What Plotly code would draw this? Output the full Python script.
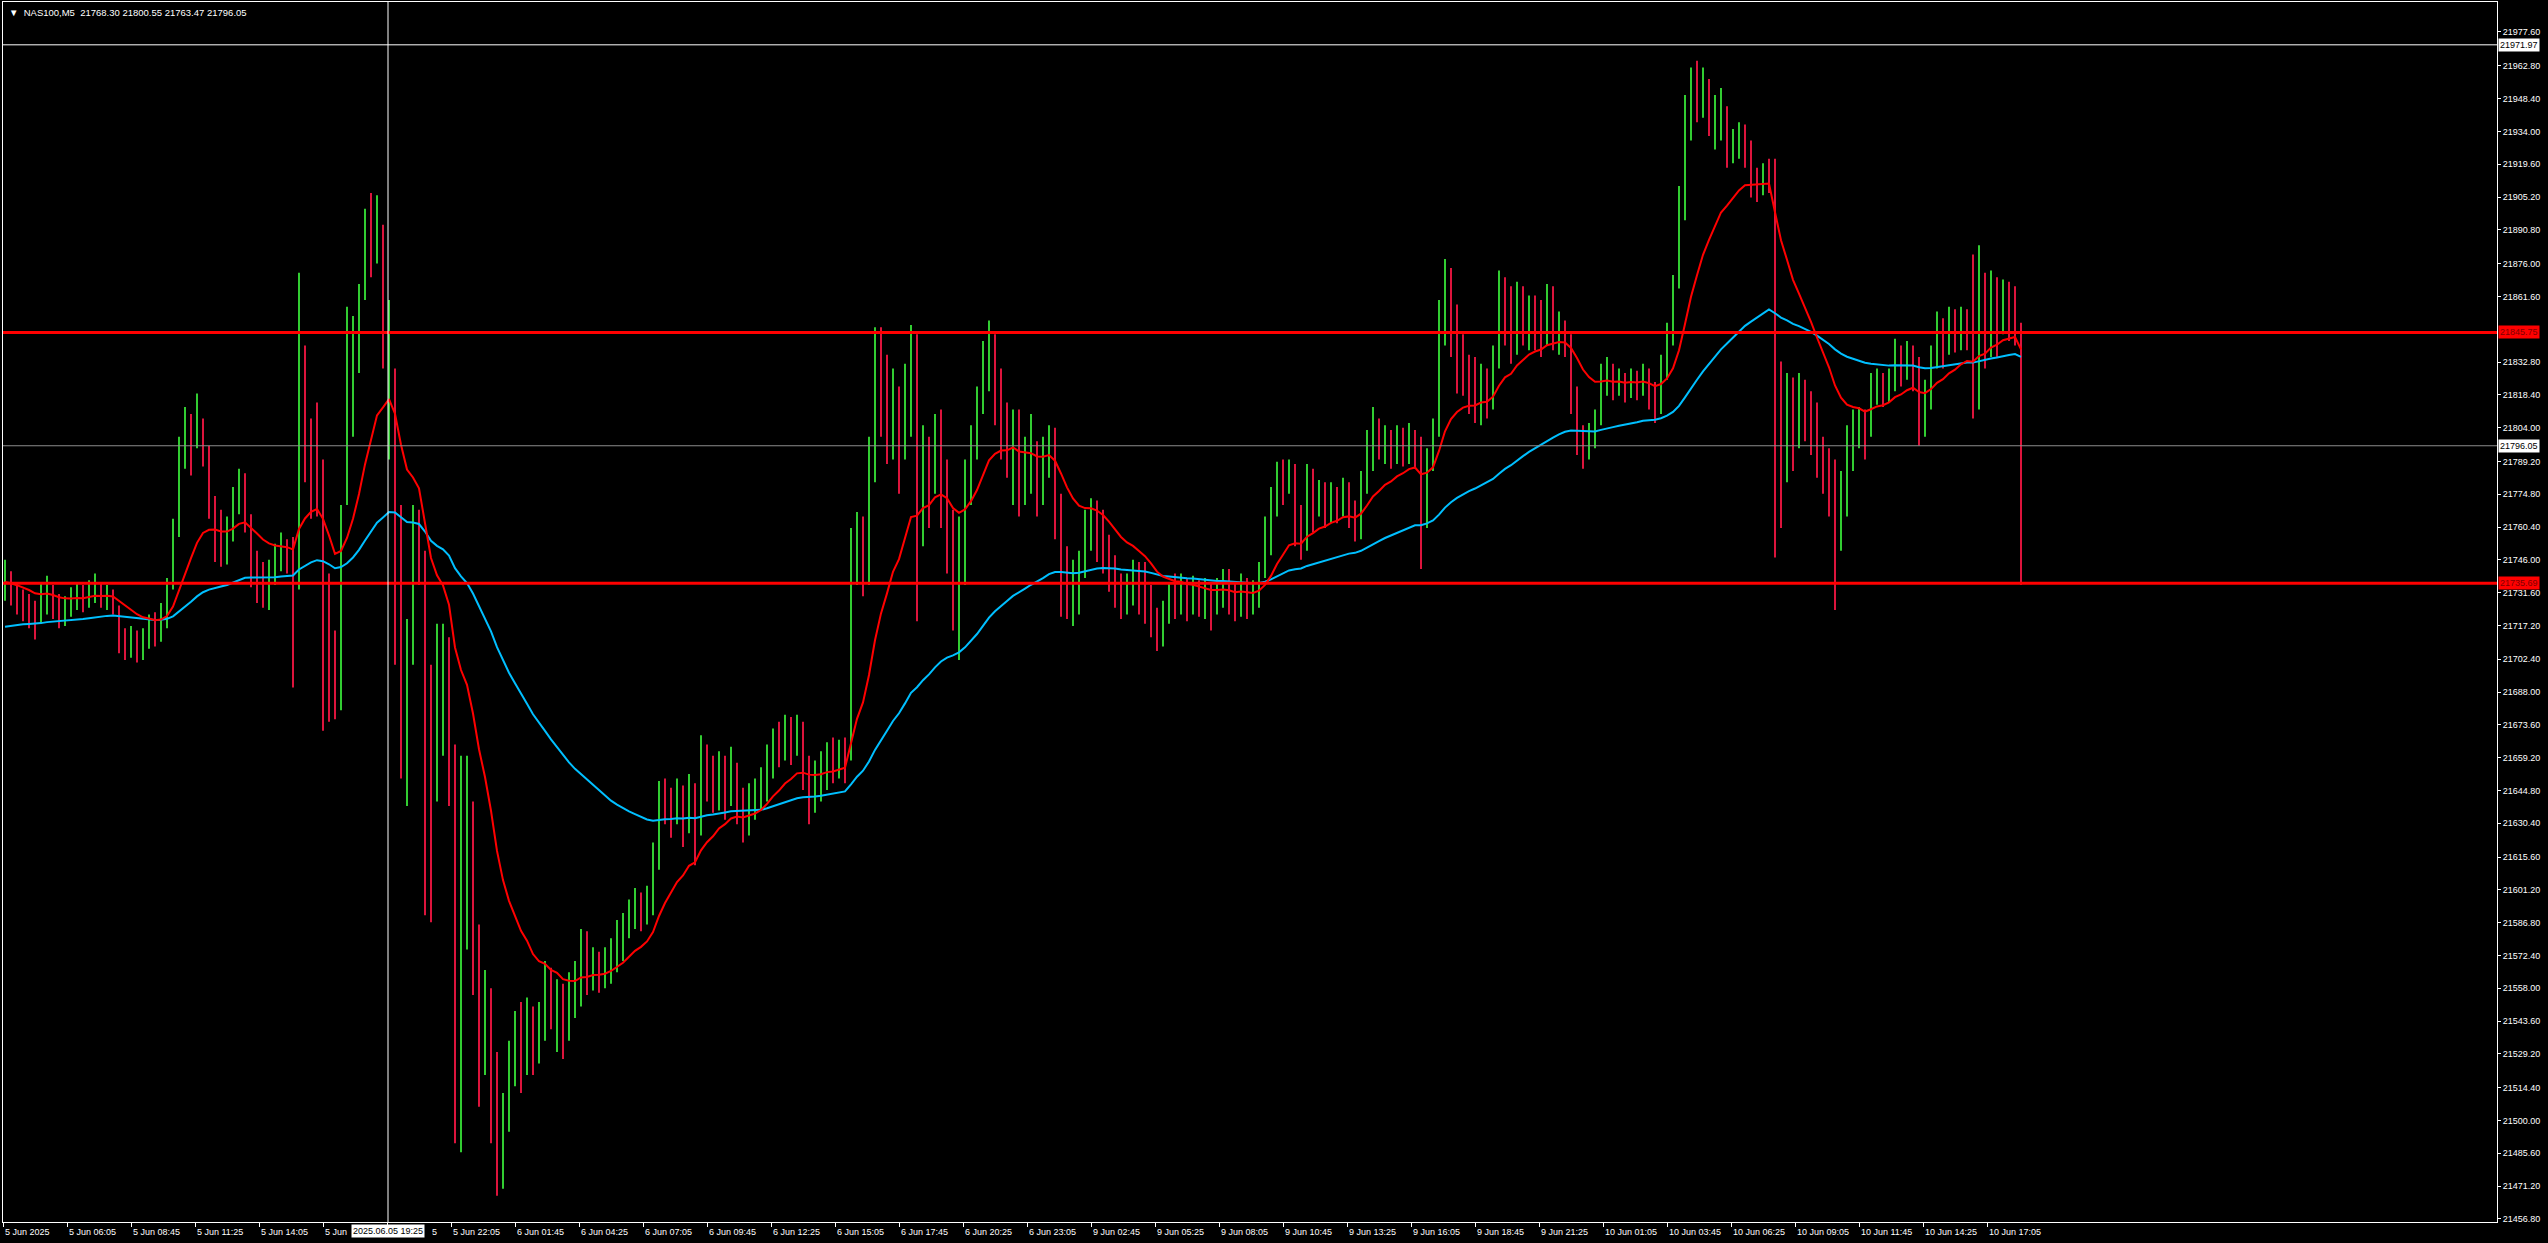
import plotly.graph_objects as go

# ---------------- data (15-minute aggregates) ----------------
first_open = 21735.0
bar_close = [
    21738, 21732, 21728, 21726, 21724, 21720, 21728, 21733, 21726, 21722,
    21725, 21729, 21731, 21728, 21733, 21735, 21730, 21731, 21727, 21712,
    21709, 21711, 21707, 21710, 21716, 21714, 21722, 21733, 21758, 21790,
    21800, 21797, 21806, 21792, 21770, 21760, 21752, 21758, 21770, 21778,
    21768, 21742, 21737, 21734, 21740, 21745, 21750, 21748, 21743, 21830,
    21800, 21790, 21778, 21730, 21700, 21685, 21760, 21800, 21830, 21860,
    21890, 21885, 21892, 21840, 21845, 21760, 21690, 21700, 21755, 21740,
    21650, 21620, 21680, 21700, 21660, 21560, 21620, 21640, 21580, 21540,
    21555, 21520, 21480, 21505, 21525, 21540, 21530, 21545, 21527, 21545,
    21560, 21545, 21555, 21540, 21556, 21560, 21575, 21565, 21570, 21565,
    21568, 21575, 21580, 21585, 21592, 21595, 21590, 21597, 21615, 21645,
    21640, 21635, 21642, 21630, 21645, 21625, 21660, 21650, 21645, 21655,
    21645, 21652, 21640, 21630, 21640, 21642, 21648, 21660, 21668, 21665,
    21672, 21665, 21672, 21655, 21645, 21650, 21655, 21660, 21655, 21662,
    21660, 21750, 21760, 21740, 21790, 21830, 21815, 21800, 21815, 21790,
    21825, 21840, 21770, 21795, 21780, 21800, 21785, 21760, 21735, 21750,
    21780, 21800, 21815, 21835, 21840, 21815, 21805, 21795, 21805, 21780,
    21790, 21790, 21780, 21790, 21798, 21770, 21740, 21730, 21735, 21745,
    21760, 21768, 21760, 21750, 21740, 21735, 21728, 21735, 21740, 21732,
    21730, 21720, 21712, 21722, 21730, 21728, 21735, 21727, 21733, 21728,
    21730, 21725, 21732, 21735, 21730, 21725, 21735, 21728, 21730, 21740,
    21755, 21770, 21785, 21780, 21785, 21760, 21752, 21780, 21770, 21775,
    21768, 21775, 21770, 21777, 21768, 21760, 21780, 21798, 21805, 21795,
    21800, 21792, 21800, 21795, 21800, 21792, 21760, 21790, 21805, 21850,
    21870, 21850, 21835, 21828, 21820, 21815, 21825, 21818, 21835, 21860,
    21855, 21840, 21860, 21852, 21855, 21848, 21845, 21855, 21845, 21848,
    21840, 21820, 21800, 21790, 21800, 21808, 21825, 21828, 21820, 21825,
    21820, 21826, 21822, 21828, 21818, 21812, 21830, 21845, 21865, 21900,
    21940, 21955, 21945, 21950, 21938, 21940, 21945, 21925, 21930, 21935,
    21928, 21912, 21910, 21915, 21912, 21800, 21790, 21810, 21800, 21815,
    21810, 21800, 21790, 21785, 21780, 21760, 21775, 21790, 21805, 21808,
    21800, 21820, 21823, 21818, 21825, 21835, 21828, 21835, 21830, 21805,
    21815, 21835, 21845, 21838, 21848, 21842, 21850, 21845, 21830, 21855,
    21845, 21860, 21850, 21858, 21850, 21848, 21796,
]
bar_high = [
    21746, 21741, 21736, 21733, 21731, 21728, 21736, 21739, 21735, 21731,
    21730, 21734, 21736, 21735, 21737, 21740, 21736, 21735, 21733, 21726,
    21716, 21717, 21715, 21716, 21722, 21723, 21727, 21738, 21764, 21800,
    21813, 21810, 21819, 21808, 21796, 21774, 21768, 21765, 21778, 21786,
    21784, 21766, 21750, 21745, 21746, 21753, 21758, 21755, 21756, 21872,
    21840, 21808, 21815, 21790, 21740, 21715, 21770, 21857, 21853, 21867,
    21900, 21907, 21906, 21893, 21860, 21830, 21770, 21720, 21770, 21768,
    21750, 21700, 21718, 21718, 21712, 21665, 21660, 21660, 21640, 21586,
    21566, 21558, 21530, 21512, 21535, 21548, 21552, 21554, 21550, 21552,
    21570, 21567, 21562, 21560, 21565, 21570, 21584, 21583, 21576, 21574,
    21576, 21580, 21588, 21591, 21597, 21602, 21600, 21603, 21622, 21649,
    21650, 21646, 21650, 21647, 21652, 21648, 21669, 21665, 21660, 21662,
    21660, 21664, 21657, 21646, 21648, 21650, 21655, 21665, 21672, 21675,
    21678, 21677, 21678, 21675, 21660, 21658, 21662, 21666, 21668, 21667,
    21668, 21760, 21767, 21765, 21800, 21848, 21848, 21836, 21830, 21822,
    21832, 21849, 21845, 21805, 21800, 21810, 21812, 21790, 21768, 21765,
    21790, 21805, 21822, 21842, 21851, 21845, 21830, 21815, 21812, 21812,
    21800, 21810, 21798, 21800, 21805, 21804, 21775, 21752, 21746, 21750,
    21768, 21773, 21772, 21768, 21757, 21748, 21740, 21740, 21746, 21745,
    21745, 21735, 21725, 21728, 21736, 21740, 21740, 21738, 21739, 21737,
    21738, 21736, 21738, 21742, 21742, 21736, 21740, 21738, 21737, 21745,
    21765, 21778, 21789, 21790, 21790, 21788, 21770, 21788, 21786, 21781,
    21780, 21780, 21778, 21782, 21780, 21772, 21785, 21803, 21813, 21808,
    21805, 21803, 21805, 21804, 21806, 21803, 21800, 21795, 21808, 21860,
    21878, 21874, 21858, 21845, 21836, 21835, 21832, 21830, 21840, 21873,
    21870, 21866, 21868, 21866, 21862, 21862, 21860, 21867, 21866, 21855,
    21851, 21845, 21822, 21805, 21806, 21812, 21832, 21835, 21832, 21830,
    21828, 21830, 21829, 21832, 21830, 21824, 21836, 21850, 21871, 21910,
    21950, 21962, 21965, 21962, 21957, 21950, 21953, 21945, 21935, 21938,
    21937, 21930, 21918, 21920, 21922, 21922, 21833, 21828, 21826, 21828,
    21825, 21820, 21815, 21800, 21795, 21790, 21785, 21805, 21812, 21813,
    21812, 21828, 21830, 21828, 21830, 21843, 21840, 21842, 21840, 21835,
    21825, 21840, 21855, 21852, 21857, 21856, 21857, 21856, 21880, 21884,
    21872, 21873, 21870, 21869, 21868, 21866, 21850,
]
bar_low = [
    21728, 21726, 21722, 21719, 21716, 21711, 21718, 21722, 21720, 21716,
    21717, 21721, 21724, 21723, 21725, 21727, 21725, 21724, 21722, 21705,
    21702, 21703, 21701, 21702, 21707, 21708, 21710, 21716, 21733, 21756,
    21786, 21783, 21795, 21787, 21764, 21745, 21743, 21744, 21754, 21766,
    21758, 21734, 21727, 21725, 21724, 21735, 21741, 21740, 21690, 21733,
    21780, 21764, 21765, 21671, 21675, 21676, 21680, 21770, 21800, 21828,
    21860, 21870, 21876, 21830, 21790, 21700, 21650, 21638, 21700, 21735,
    21590, 21587, 21640, 21660, 21638, 21490, 21486, 21575, 21555, 21506,
    21520, 21490, 21467, 21470, 21495, 21515, 21512, 21520, 21520, 21525,
    21535, 21540, 21530, 21527, 21535, 21545, 21550, 21555, 21557, 21556,
    21558, 21560, 21565, 21570, 21580, 21584, 21583, 21586, 21590, 21610,
    21630, 21624, 21630, 21620, 21626, 21612, 21625, 21640, 21635, 21636,
    21632, 21638, 21630, 21622, 21625, 21632, 21636, 21640, 21650, 21655,
    21658, 21656, 21660, 21645, 21630, 21635, 21640, 21645, 21648, 21650,
    21648, 21658, 21735, 21730, 21735, 21780, 21800, 21788, 21790, 21775,
    21790, 21800, 21719, 21752, 21760, 21775, 21760, 21740, 21715, 21702,
    21735, 21770, 21790, 21810, 21820, 21805, 21790, 21782, 21770, 21765,
    21770, 21775, 21765, 21770, 21782, 21755, 21721, 21720, 21717, 21722,
    21738, 21750, 21745, 21740, 21732, 21725, 21720, 21722, 21726, 21722,
    21718, 21712, 21706, 21708, 21718, 21720, 21722, 21719, 21722, 21721,
    21720, 21715, 21722, 21725, 21722, 21719, 21721, 21720, 21722, 21725,
    21738, 21748, 21765, 21770, 21775, 21752, 21746, 21750, 21758, 21765,
    21760, 21762, 21762, 21765, 21760, 21754, 21755, 21775, 21785, 21790,
    21788, 21786, 21788, 21787, 21788, 21786, 21742, 21760, 21785, 21800,
    21840, 21835, 21819, 21818, 21810, 21806, 21805, 21808, 21812, 21830,
    21840, 21832, 21836, 21840, 21838, 21838, 21835, 21840, 21838, 21836,
    21835, 21810, 21792, 21786, 21790, 21795, 21805, 21818, 21816, 21818,
    21815, 21817, 21816, 21818, 21812, 21806, 21810, 21825, 21840, 21865,
    21895, 21930, 21938, 21940, 21932, 21926, 21930, 21918, 21920, 21922,
    21918, 21905, 21903, 21906, 21907, 21747, 21760, 21780, 21785, 21795,
    21798, 21792, 21782, 21775, 21765, 21724, 21750, 21765, 21785, 21795,
    21790, 21800, 21814, 21813, 21815, 21820, 21822, 21825, 21820, 21796,
    21800, 21812, 21830, 21830, 21836, 21837, 21838, 21838, 21808, 21812,
    21830, 21835, 21835, 21845, 21842, 21840, 21735,
]
bars_per_point = 3          # each value above covers three M5 bars
red_ma_period = 50          # EMA periods on M5
blue_ma_period = 200
red_ma_start = 21736.0      # indicator values at the left edge
blue_ma_start = 21716.0

# labels as they are visible (two are partly covered by the crosshair time box)
x_tick_labels = [
    "5 Jun 2025", "5 Jun 06:05", "5 Jun 08:45", "5 Jun 11:25", "5 Jun 14:05", "5 Jun",
    "", "5 Jun 22:05", "6 Jun 01:45", "6 Jun 04:25", "6 Jun 07:05", "6 Jun 09:45",
    "6 Jun 12:25", "6 Jun 15:05", "6 Jun 17:45", "6 Jun 20:25", "6 Jun 23:05", "9 Jun 02:45",
    "9 Jun 05:25", "9 Jun 08:05", "9 Jun 10:45", "9 Jun 13:25", "9 Jun 16:05", "9 Jun 18:45",
    "9 Jun 21:25", "10 Jun 01:05", "10 Jun 03:45", "10 Jun 06:25", "10 Jun 09:05",
    "10 Jun 11:45", "10 Jun 14:25", "10 Jun 17:05",
]
x_tick_step = 32
covered_tail = "5"          # last character of "5 Jun 19:25" showing right of the time box
y_tick_labels = [
    "21977.60", "21962.80", "21948.40", "21934.00", "21919.60", "21905.20", "21890.80",
    "21876.00", "21861.60", "21832.80", "21818.40", "21804.00", "21789.20",
    "21774.80", "21760.40", "21746.00", "21731.60", "21717.20", "21702.40", "21688.00",
    "21673.60", "21659.20", "21644.80", "21630.40", "21615.60", "21601.20", "21586.80",
    "21572.40", "21558.00", "21543.60", "21529.20", "21514.40", "21500.00", "21485.60",
    "21471.20", "21456.80",
]
level_high = 21845.75
level_low = 21735.69
bid_price = 21796.05
cross_price = 21971.97
cross_bar = 192.5
cross_time = "2025.06.05 19:25"
header = "NAS100,M5  21768.30 21800.55 21763.47 21796.05"
y_range = [21455.45, 21990.76]
x_range = [0, 1247]

# ---------------- build ----------------
UP, DOWN = "#32CD32", "#DC143C"
FONT = "Liberation Sans, Arial, sans-serif"

n = len(bar_close)
xs = [bars_per_point * k + 1 for k in range(n)]
opens = [first_open] + bar_close[:-1]

ux, uy, dx, dy = [], [], [], []
for k in range(n):
    if bar_close[k] >= opens[k]:
        ux += [xs[k], xs[k], None]; uy += [bar_low[k], bar_high[k], None]
    else:
        dx += [xs[k], xs[k], None]; dy += [bar_low[k], bar_high[k], None]


def ema(values, period, start):
    a5 = 2.0 / (period + 1)
    a = 1 - (1 - a5) ** bars_per_point
    out, v = [], start
    for c in values:
        v = v + a * (c - v)
        out.append(v)
    return out


red_ma = ema(bar_close, red_ma_period, red_ma_start)
blue_ma = ema(bar_close, blue_ma_period, blue_ma_start)

fig = go.Figure()
fig.add_trace(go.Scatter(x=ux, y=uy, mode="lines", line=dict(color=UP, width=2),
                         hoverinfo="skip", showlegend=False))
fig.add_trace(go.Scatter(x=dx, y=dy, mode="lines", line=dict(color=DOWN, width=2),
                         hoverinfo="skip", showlegend=False))
fig.add_trace(go.Scatter(x=xs, y=blue_ma, mode="lines", line=dict(color="#00BFFF", width=2),
                         showlegend=False))
fig.add_trace(go.Scatter(x=xs, y=red_ma, mode="lines", line=dict(color="#FF0000", width=2),
                         showlegend=False))

shapes = [
    dict(type="line", xref="paper", x0=0, x1=1, yref="y", y0=bid_price, y1=bid_price,
         line=dict(color="#8C8C8C", width=1)),
    dict(type="line", xref="paper", x0=0, x1=1, yref="y", y0=level_high, y1=level_high,
         line=dict(color="#FF0000", width=3)),
    dict(type="line", xref="paper", x0=0, x1=1, yref="y", y0=level_low, y1=level_low,
         line=dict(color="#FF0000", width=3)),
    dict(type="line", xref="paper", x0=0, x1=1, yref="y", y0=cross_price, y1=cross_price,
         line=dict(color="#FFFFFF", width=1)),
    dict(type="line", xref="x", x0=cross_bar, x1=cross_bar, yref="paper", y0=0, y1=1,
         line=dict(color="#FFFFFF", width=1)),
]

ann = [dict(text="\u25BC  " + header, xref="paper", yref="paper", x=0, y=1, xanchor="left",
            yanchor="top", xshift=4, yshift=-3, showarrow=False,
            font=dict(family=FONT, size=9.5, color="#FFFFFF"))]
tick_bars = [i * x_tick_step for i in range(len(x_tick_labels))]
for b, t in zip(tick_bars, x_tick_labels):
    if t:
        ann.append(dict(text=t, xref="x", yref="paper", x=b, y=0, xanchor="left",
                        yanchor="top", xshift=0, yshift=-3, showarrow=False,
                        font=dict(family=FONT, size=9, color="#FFFFFF")))
ann.append(dict(text=cross_time, xref="x", yref="paper", x=cross_bar, y=0, xanchor="center",
                yanchor="top", yshift=-2, showarrow=False, bgcolor="#FFFFFF", borderpad=1,
                font=dict(family=FONT, size=9, color="#000000")))
ann.append(dict(text=covered_tail, xref="x", yref="paper", x=cross_bar, y=0, xanchor="left",
                yanchor="top", xshift=42, yshift=-3, showarrow=False,
                font=dict(family=FONT, size=9, color="#FFFFFF")))
for price, bg, fg in [(level_high, "#FF0000", "#800000"), (level_low, "#FF0000", "#800000"),
                      (bid_price, "#FFFFFF", "#000000"), (cross_price, "#FFFFFF", "#000000")]:
    ann.append(dict(text=f"{price:.2f}", xref="paper", yref="y", x=1, y=price, xanchor="left",
                    yanchor="middle", xshift=1, showarrow=False, bgcolor=bg, borderpad=1,
                    font=dict(family=FONT, size=9, color=fg)))

fig.update_layout(
    width=2548, height=1243,
    margin=dict(l=3, r=51, t=2, b=21, autoexpand=False),
    paper_bgcolor="#000000", plot_bgcolor="#000000",
    shapes=shapes, annotations=ann, hovermode=False,
    xaxis=dict(range=x_range, showgrid=False, zeroline=False, showline=True,
               linecolor="#FFFFFF", linewidth=1, mirror=True, ticks="outside",
               tickvals=tick_bars, ticklen=4, tickcolor="#FFFFFF", showticklabels=False),
    yaxis=dict(range=y_range, side="right", showgrid=False, zeroline=False, showline=True,
               linecolor="#FFFFFF", linewidth=1, mirror=True, ticks="outside", ticklen=3,
               tickcolor="#FFFFFF", tickvals=[float(v) for v in y_tick_labels],
               ticktext=y_tick_labels,
               tickfont=dict(family=FONT, size=9, color="#FFFFFF")),
)

fig.write_html("out.html", config={"displayModeBar": False},
               post_script="document.body.style.margin='0';document.body.style.overflow='hidden';")
